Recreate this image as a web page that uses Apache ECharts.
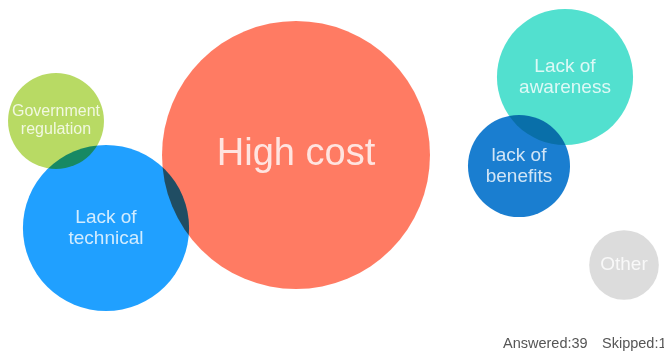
<!DOCTYPE html>
<html>
<head>
<meta charset="utf-8">
<script src="https://cdn.jsdelivr.net/npm/echarts@6/dist/echarts.min.js"></script>
<style>
  html, body { margin: 0; padding: 0; background: #ffffff; }
  #chart { width: 664px; height: 354px; }
</style>
</head>
<body>
<div id="chart"></div>
<script>
// Survey answers: reasons given, share of respondents (%), bubble layout coordinates
const categories = ['High cost', 'Lack of\ntechnical', 'Government\nregulation', 'Lack of\nawareness', 'lack of\nbenefits', 'Other'];
const shares = [59.3, 22.8, 7.6, 15.3, 8.6, 4.0];
const bubbleX = [296, 106, 56, 565, 519, 624];
const bubbleY = [155, 228, 121, 77, 166, 265];
const answered = 39;
const skipped = 1;

const palette = ['#FF7B63', '#20A0FF', '#B8DA64', '#52E0CF', '#1A7ED0', '#DCDCDC'];
const labelFont = [38, 19, 16, 19, 19, 19];
const FONT = '"Liberation Sans", Arial, Helvetica, sans-serif';

// diameter grows with the square root of the share so area tracks the value
const sizeOf = (v) => 34.8 * Math.sqrt(v[2]);

const circleData = categories.map((name, i) => ({
  name: name,
  value: [bubbleX[i], bubbleY[i], shares[i]],
  itemStyle: { color: palette[i], opacity: 1 }
}));

const labelData = categories.map((name, i) => ({
  name: name,
  value: [bubbleX[i], bubbleY[i], shares[i]],
  label: { fontSize: labelFont[i], lineHeight: Math.round(labelFont[i] * 1.12) }
}));

const chart = echarts.init(document.getElementById('chart'), null, { renderer: 'canvas' });
chart.setOption({
  animation: false,
  backgroundColor: '#ffffff',
  grid: { left: 0, right: 0, top: 0, bottom: 0 },
  xAxis: { type: 'value', min: 0, max: 664, show: false },
  yAxis: { type: 'value', min: 0, max: 354, inverse: true, show: false },
  series: [
    {
      // bubbles, overlapping areas darken
      type: 'scatter',
      blendMode: 'multiply',
      symbol: 'circle',
      symbolSize: sizeOf,
      itemStyle: { opacity: 1 },
      data: circleData,
      label: { show: false },
      emphasis: { disabled: true },
      silent: true
    },
    {
      // text on top of each bubble
      type: 'scatter',
      symbol: 'circle',
      symbolSize: sizeOf,
      itemStyle: { color: 'rgba(0,0,0,0)' },
      data: labelData,
      label: {
        show: true,
        position: 'inside',
        formatter: '{b}',
        color: '#ffffff',
        fontFamily: FONT,
        align: 'center'
      },
      emphasis: { disabled: true },
      silent: true
    }
  ],
  graphic: [
    {
      type: 'text',
      left: 503,
      top: 336,
      style: { text: 'Answered:' + answered, fill: '#555555', font: '14.5px ' + FONT }
    },
    {
      type: 'text',
      left: 602,
      top: 336,
      style: { text: 'Skipped:' + skipped, fill: '#555555', font: '14.5px ' + FONT }
    }
  ]
});
</script>
</body>
</html>
